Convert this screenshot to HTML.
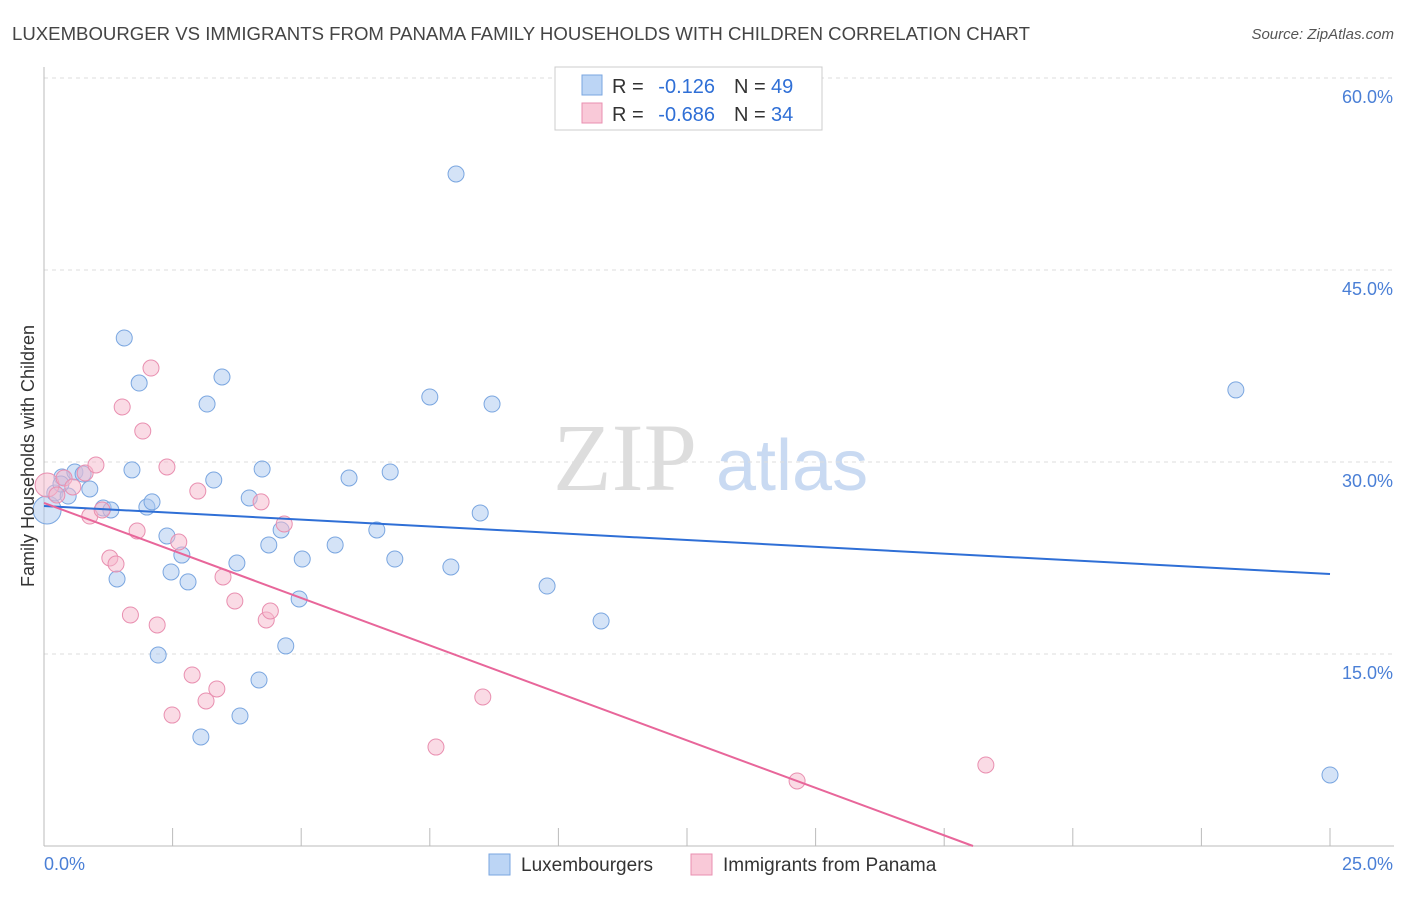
<!DOCTYPE html>
<html><head><meta charset="utf-8"><style>
html,body{margin:0;padding:0;background:#fff;}
body{width:1406px;height:892px;overflow:hidden;font-family:"Liberation Sans",sans-serif;}
</style></head><body>
<svg id="chart" width="1406" height="892" xmlns="http://www.w3.org/2000/svg" font-family="Liberation Sans, sans-serif">
<text x="12" y="40" font-size="18.6" fill="#444">LUXEMBOURGER VS IMMIGRANTS FROM PANAMA FAMILY HOUSEHOLDS WITH CHILDREN CORRELATION CHART</text>
<text x="1394" y="39" font-size="15" fill="#555" text-anchor="end" font-style="italic">Source: ZipAtlas.com</text>
<g>
<text x="553" y="490" font-size="96" font-family="Liberation Serif, serif" fill="#dddddd">ZIP</text>
<text x="716" y="490" font-size="72" fill="#c9daf2">atlas</text>
</g>
<g id="grid"></g>
<g id="axes"></g>
<g id="marks"></g>
<text transform="translate(34,456) rotate(-90)" font-size="18" fill="#333" text-anchor="middle">Family Households with Children</text>
<g>
<rect x="555" y="67" width="267" height="63" fill="#fff" stroke="#ccc"/>
<rect x="582" y="75" width="20" height="20" fill="#bcd5f5" stroke="#7aa6e0"/>
<text x="612" y="93" font-size="20" fill="#333">R =</text>
<text x="715" y="93" font-size="20" fill="#2f6fd6" text-anchor="end">-0.126</text>
<text x="734" y="93" font-size="20" fill="#333">N =</text>
<text x="771" y="93" font-size="20" fill="#2f6fd6">49</text>
<rect x="582" y="103" width="20" height="20" fill="#f9c9d8" stroke="#e98fb0"/>
<text x="612" y="121" font-size="20" fill="#333">R =</text>
<text x="715" y="121" font-size="20" fill="#2f6fd6" text-anchor="end">-0.686</text>
<text x="734" y="121" font-size="20" fill="#333">N =</text>
<text x="771" y="121" font-size="20" fill="#2f6fd6">34</text>
</g>
<g>
<rect x="489" y="854" width="21" height="21" fill="#bcd5f5" stroke="#7aa6e0"/>
<text x="521" y="871" font-size="19" fill="#333">Luxembourgers</text>
<rect x="691" y="854" width="21" height="21" fill="#f9c9d8" stroke="#e98fb0"/>
<text x="723" y="871" font-size="19" fill="#333">Immigrants from Panama</text>
</g>
</svg>
<script>
const xTicks=[0,2.5,5,7.5,10,12.5,15,17.5,20,22.5,25];
const yTicks=[15,30,45,60];
const yTickLabels=["15.0%","30.0%","45.0%","60.0%"];
const xTickLabels=["0.0%","25.0%"];
const luxX=[0.06,0.21,0.35,0.47,0.60,0.76,0.89,1.15,1.30,1.42,1.56,1.71,1.85,2.00,2.10,2.22,2.39,2.47,2.68,2.80,3.05,3.17,3.30,3.46,3.75,3.81,3.99,4.18,4.24,4.37,4.61,4.70,4.96,5.02,5.66,5.93,6.47,6.73,6.82,7.50,7.91,8.01,8.48,8.71,9.78,10.83,23.17,25.0,0.33];
const luxY=[26.25,27.58,28.83,27.34,29.22,29.06,27.89,26.41,26.25,20.86,39.69,29.38,36.17,26.48,26.88,14.92,24.22,21.41,22.73,20.63,8.52,34.53,28.59,36.64,22.11,10.16,27.19,12.97,29.45,23.52,24.69,15.63,19.30,22.42,23.52,28.75,24.69,29.22,22.42,35.08,21.80,52.50,26.02,34.53,20.31,17.58,35.63,5.55,28.28];
const panX=[0.06,0.25,0.39,0.56,0.80,0.89,1.01,1.13,1.28,1.40,1.52,1.68,1.81,1.92,2.08,2.20,2.39,2.49,2.62,2.88,2.99,3.15,3.36,3.48,3.71,4.22,4.32,4.40,4.67,7.62,8.53,14.64,18.31];
const panY=[28.20,27.42,28.75,28.05,29.14,25.78,29.77,26.25,22.50,22.03,34.30,18.05,24.61,32.42,37.34,17.27,29.61,10.23,23.75,13.36,27.73,11.33,12.27,21.02,19.14,26.88,17.66,18.36,25.16,7.73,11.64,5.08,6.33];
const luxTrend=[26.56,21.25];
const panTrend=[26.8,-1.484];
const NS='http://www.w3.org/2000/svg';
const X=v=>44+v/25*1286;
const Y=v=>846-v/15*192;
function mk(tag,attrs,parent){const e=document.createElementNS(NS,tag);for(const k in attrs)e.setAttribute(k,attrs[k]);parent.appendChild(e);return e;}
const grid=document.getElementById('grid'),axes=document.getElementById('axes'),marks=document.getElementById('marks');
yTicks.forEach((t,i)=>{
 const l=mk('line',{x1:44,x2:1394,y1:Y(t),y2:Y(t),stroke:'#ddd','stroke-dasharray':'4,4'},grid);
 
 
 const tx=mk('text',{x:1393,y:Y(t)+25,'font-size':18,fill:'#4a7fd6','text-anchor':'end'},axes);
 tx.textContent=yTickLabels[i];
 
 
});
const ax=mk('line',{x1:44,x2:44,y1:67,y2:846,stroke:'#bbb'},axes);


const bx=mk('line',{x1:44,x2:1394,y1:846,y2:846,stroke:'#bbb'},axes);


xTicks.forEach(t=>{
 const l=mk('line',{x1:X(t),x2:X(t),y1:828,y2:846,stroke:'#bbb'},axes);
 
 
});
const xl0=mk('text',{x:44,y:870,'font-size':18,fill:'#4a7fd6'},axes);xl0.textContent=xTickLabels[0];


const xl1=mk('text',{x:1393,y:870,'font-size':18,fill:'#4a7fd6','text-anchor':'end'},axes);xl1.textContent=xTickLabels[1];


luxX.forEach((x,i)=>{
 const c=mk('circle',{cx:X(x),cy:Y(luxY[i]),r:i===0?14:8,fill:'rgba(169,200,240,0.5)',stroke:'#7aa6e0','stroke-width':1},marks);
 
 
});
panX.forEach((x,i)=>{
 const c=mk('circle',{cx:X(x),cy:Y(panY[i]),r:i===0?12:8,fill:'rgba(245,184,204,0.5)',stroke:'#e98fb0','stroke-width':1},marks);
 
 
});
const bl=mk('line',{x1:X(0),y1:Y(luxTrend[0]),x2:X(25),y2:Y(luxTrend[1]),stroke:'#2f6fd6','stroke-width':2},marks);


const xEnd=-panTrend[0]/panTrend[1];
const pl=mk('line',{x1:X(0),y1:Y(panTrend[0]),x2:X(xEnd),y2:Y(0),stroke:'#e8669a','stroke-width':2},marks);


</script>
</body></html>
